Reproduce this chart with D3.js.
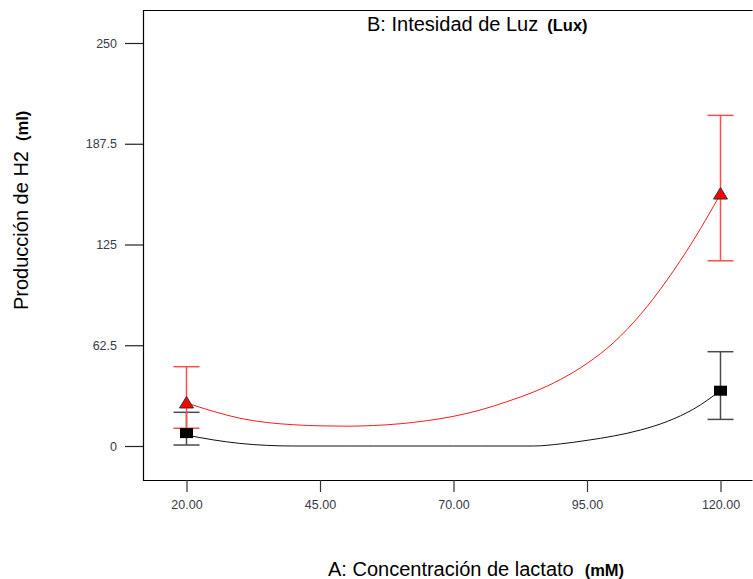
<!DOCTYPE html>
<html>
<head>
<meta charset="utf-8">
<script src="https://cdn.jsdelivr.net/npm/d3@7/dist/d3.min.js"></script>
<style>
  html, body { margin: 0; padding: 0; background: #fff; }
  svg { display: block; font-family: "Liberation Sans", Arial, sans-serif; }
</style>
</head>
<body>
<svg id="chart" width="753" height="579"></svg>
<script>
// ---- data ----
const xTickValues = [20, 45, 70, 95, 120];
const xTickLabels = ["20.00", "45.00", "70.00", "95.00", "120.00"];
const yTickValues = [0, 62.5, 125, 187.5, 250];
const yTickLabels = ["0", "62.5", "125", "187.5", "250"];

// design points (A: lactate mM)
const pointX = [20, 120];
// low light level (black squares)
const lowY = [8, 34.3];
const lowErrLo = [0.6, 16.5];
const lowErrHi = [20.9, 58.5];
// high light level (red triangles)
const highY = [26.7, 156.3];
const highErrLo = [11, 114.9];
const highErrHi = [49.2, 205.1];

// model prediction curves
const lowCurveX = [20, 25, 30, 35, 40, 45, 50, 55, 60, 65, 70, 75, 80, 85, 90, 95, 100, 105, 110, 115, 120];
const lowCurve = [6.8, 3.8, 1.6, 0.4, 0, 0, 0, 0, 0, 0, 0, 0, 0, 0, 1.3, 3.5, 6.2, 9.9, 15.2, 23, 34.3];
const highCurveX = [20, 25, 30, 35, 40, 45, 50, 55, 60, 65, 70, 75, 80, 85, 90, 95, 100, 105, 110, 115, 120];
const highCurve = [26.7, 21.5, 17.2, 14.6, 13.2, 12.5, 12.3, 12.7, 13.8, 15.7, 18.4, 22.3, 27.5, 33.5, 41.2, 51.2, 64.2, 81.5, 103, 128, 156.3];

// ---- layout ----
const svg = d3.select("#chart");
const frame = { left: 143, top: 10, right: 752, bottom: 480 };
const x = d3.scaleLinear().domain([20, 120]).range([186.5, 720.5]);
const y = d3.scaleLinear().domain([0, 250]).range([446, 43]);

// frame
svg.append("path")
  .attr("d", `M${frame.right + 0.5},${frame.top + 0.5}H${frame.left + 0.5}V${frame.bottom + 0.5}H${frame.right + 0.5}`)
  .attr("fill", "none").attr("stroke", "#000").attr("stroke-width", 1.2);

// axes
const yAxis = d3.axisLeft(y).tickValues(yTickValues)
  .tickFormat((d, i) => yTickLabels[i]).tickSize(18).tickPadding(8);
const gy = svg.append("g").attr("transform", `translate(${frame.left},0)`).call(yAxis);
gy.select(".domain").remove();
gy.selectAll(".tick line").attr("stroke", "#222").attr("stroke-width", 1.2);
gy.selectAll(".tick text").attr("fill", "#3a3a4a").style("font-size", "12.5px")
  .style("font-family", "'Liberation Sans', Arial, sans-serif");

const xAxis = d3.axisBottom(x).tickValues(xTickValues)
  .tickFormat((d, i) => xTickLabels[i]).tickSize(12).tickPadding(8.5);
const gx = svg.append("g").attr("transform", `translate(0,${frame.bottom})`).call(xAxis);
gx.select(".domain").remove();
gx.selectAll(".tick line").attr("stroke", "#333").attr("stroke-width", 1.2);
gx.selectAll(".tick text").attr("fill", "#3a3a4a").style("font-size", "12.5px")
  .style("font-family", "'Liberation Sans', Arial, sans-serif");

// curves
const line = d3.line().x(d => x(d[0])).y(d => y(d[1])).curve(d3.curveMonotoneX);
svg.append("path").datum(lowCurveX.map((v, i) => [v, lowCurve[i]]))
  .attr("d", line).attr("fill", "none").attr("stroke", "#111").attr("stroke-width", 1);
svg.append("path").datum(highCurveX.map((v, i) => [v, highCurve[i]]))
  .attr("d", line).attr("fill", "none").attr("stroke", "#ff1a1a").attr("stroke-width", 1);

// error bars
function errBars(lo, hi, color) {
  const g = svg.append("g").attr("stroke", color).attr("stroke-width", 1.5).attr("fill", "none");
  pointX.forEach((px, i) => {
    const cx = x(px);
    g.append("line").attr("x1", cx).attr("x2", cx).attr("y1", y(lo[i])).attr("y2", y(hi[i]));
    [lo[i], hi[i]].forEach(v => {
      g.append("line").attr("x1", cx - 13).attr("x2", cx + 13).attr("y1", y(v)).attr("y2", y(v));
    });
  });
}
errBars(lowErrLo, lowErrHi, "#4a4a4a");
errBars(highErrLo, highErrHi, "#ff4d4d");

// markers
svg.append("g").selectAll("rect").data(pointX).join("rect")
  .attr("x", (d) => x(d) - 6.5).attr("y", (d, i) => y(lowY[i]) - 5)
  .attr("width", 13).attr("height", 10).attr("fill", "#000");
svg.append("g").selectAll("path").data(pointX).join("path")
  .attr("d", (d, i) => {
    const cx = x(d), cy = y(highY[i]);
    return `M${cx},${cy - 6.5}L${cx + 7},${cy + 5}L${cx - 7},${cy + 5}Z`;
  })
  .attr("fill", "#ff0000").attr("stroke", "#333").attr("stroke-width", 1);

// titles
const title = svg.append("text").attr("x", 367).attr("y", 31).attr("fill", "#000");
title.append("tspan").style("font-size", "20px").text("B: Intesidad de Luz");
title.append("tspan").attr("dx", 9).style("font-size", "16.5px").style("font-weight", "bold").text("(Lux)");

const xl = svg.append("text").attr("x", 328).attr("y", 576).attr("fill", "#000");
xl.append("tspan").style("font-size", "20px").text("A: Concentración de lactato");
xl.append("tspan").attr("dx", 11).style("font-size", "16.5px").style("font-weight", "bold").text("(mM)");

const yl = svg.append("text").attr("transform", "translate(28,310) rotate(-90)").attr("fill", "#000");
yl.append("tspan").style("font-size", "20px").text("Producción de H2");
yl.append("tspan").attr("dx", 10).style("font-size", "16.5px").style("font-weight", "bold").text("(ml)");
</script>
</body>
</html>
